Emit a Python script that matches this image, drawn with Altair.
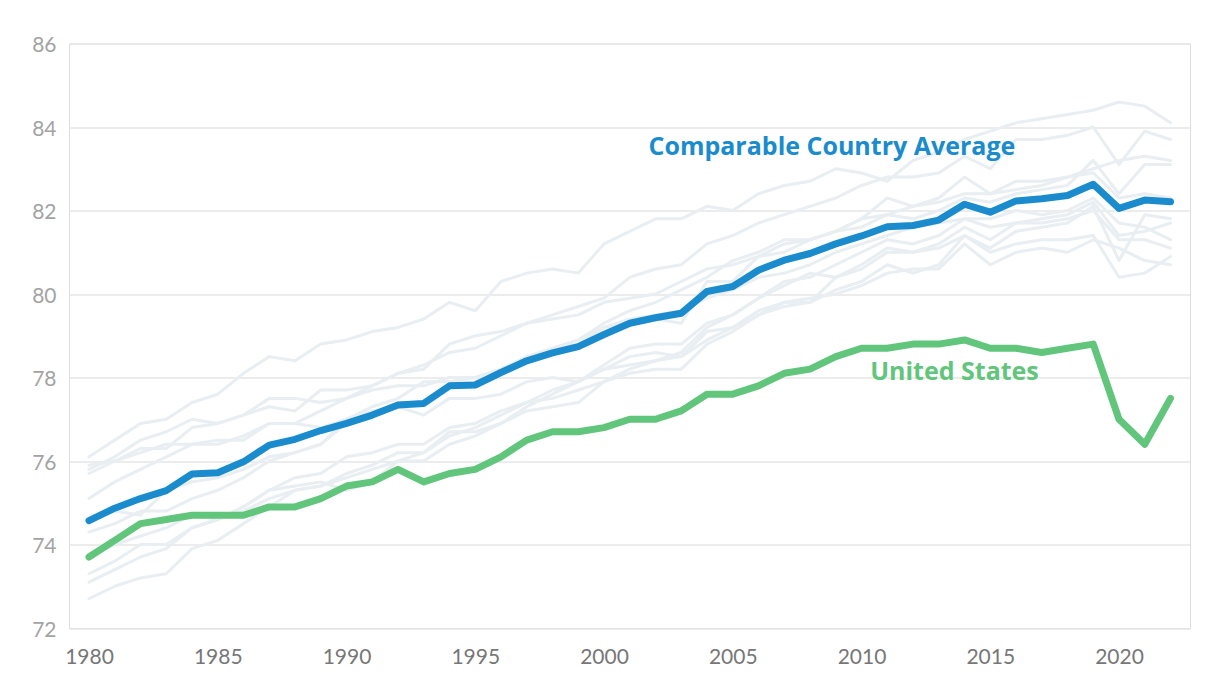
import altair as alt
import pandas as pd

years = list(range(1980, 2023))

us = [73.7, 74.1, 74.5, 74.6, 74.7, 74.7, 74.7, 74.9, 74.9, 75.1,
      75.4, 75.5, 75.8, 75.5, 75.7, 75.8, 76.1, 76.5, 76.7, 76.7,
      76.8, 77.0, 77.0, 77.2, 77.6, 77.6, 77.8, 78.1, 78.2, 78.5,
      78.7, 78.7, 78.8, 78.8, 78.9, 78.7, 78.7, 78.6, 78.7, 78.8,
      77.0, 76.4, 77.5]

comparable_avg = [74.57, 74.87, 75.1, 75.29, 75.69, 75.72, 75.98, 76.38, 76.52, 76.73,
                  76.9, 77.1, 77.34, 77.38, 77.8, 77.82, 78.12, 78.4, 78.59, 78.74,
                  79.03, 79.3, 79.43, 79.54, 80.06, 80.18, 80.57, 80.81, 80.97, 81.2,
                  81.39, 81.61, 81.64, 81.77, 82.15, 81.96, 82.23, 82.28, 82.36, 82.63,
                  82.05, 82.25, 82.21]

japan = [76.1, 76.5, 76.9, 77.0, 77.4, 77.6, 78.1, 78.5, 78.4, 78.8,
         78.9, 79.1, 79.2, 79.4, 79.8, 79.6, 80.3, 80.5, 80.6, 80.5,
         81.2, 81.5, 81.8, 81.8, 82.1, 82.0, 82.4, 82.6, 82.7, 83.0,
         82.9, 82.7, 83.2, 83.4, 83.7, 83.9, 84.1, 84.2, 84.3, 84.4,
         84.6, 84.5, 84.1]
switzerland = [75.7, 76.0, 76.3, 76.3, 76.8, 76.9, 77.1, 77.5, 77.5, 77.4,
               77.5, 77.8, 78.1, 78.3, 78.6, 78.7, 79.0, 79.3, 79.5, 79.7,
               79.9, 80.4, 80.6, 80.7, 81.2, 81.4, 81.7, 81.9, 82.1, 82.3,
               82.6, 82.8, 82.8, 82.9, 83.3, 83.0, 83.7, 83.7, 83.8, 84.0,
               83.1, 83.9, 83.7]
australia = [74.6, 74.8, 74.7, 75.3, 75.5, 75.6, 75.8, 76.1, 76.2, 76.4,
             77.0, 77.3, 77.5, 77.9, 77.9, 78.0, 78.2, 78.5, 78.7, 78.9,
             79.3, 79.6, 79.8, 80.1, 80.4, 80.8, 81.0, 81.3, 81.3, 81.5,
             81.8, 81.9, 82.1, 82.2, 82.4, 82.4, 82.5, 82.6, 82.8, 83.0,
             83.2, 83.3, 83.2]
sweden = [75.8, 76.1, 76.5, 76.7, 77.0, 76.9, 77.1, 77.3, 77.2, 77.7,
          77.7, 77.8, 78.1, 78.2, 78.8, 79.0, 79.1, 79.3, 79.4, 79.5,
          79.8, 79.9, 80.0, 80.3, 80.6, 80.7, 80.9, 81.0, 81.3, 81.5,
          81.6, 81.9, 81.8, 82.0, 82.3, 82.2, 82.4, 82.5, 82.6, 83.2,
          82.4, 83.1, 83.1]
netherlands = [75.9, 76.0, 76.2, 76.4, 76.4, 76.5, 76.5, 76.9, 76.9, 76.8,
               77.0, 77.2, 77.3, 77.1, 77.5, 77.5, 77.6, 77.9, 78.0, 77.9,
               78.2, 78.3, 78.4, 78.6, 79.2, 79.5, 79.9, 80.3, 80.4, 80.7,
               81.0, 81.3, 81.2, 81.4, 81.8, 81.6, 81.7, 81.8, 81.9, 82.2,
               81.4, 81.5, 81.7]
canada = [75.1, 75.5, 75.8, 76.1, 76.4, 76.4, 76.6, 76.9, 76.9, 77.2,
          77.5, 77.7, 77.8, 77.8, 78.0, 78.0, 78.2, 78.4, 78.6, 78.9,
          79.2, 79.4, 79.5, 79.6, 79.9, 80.1, 80.4, 80.5, 80.7, 81.0,
          81.2, 81.4, 81.6, 81.7, 81.8, 81.8, 82.0, 81.9, 82.0, 82.3,
          81.7, 81.6, 81.3]
france = [74.3, 74.5, 74.8, 74.8, 75.1, 75.3, 75.6, 76.0, 76.2, 76.4,
          76.9, 77.1, 77.4, 77.4, 77.8, 77.9, 78.1, 78.4, 78.6, 78.8,
          79.2, 79.3, 79.4, 79.3, 80.3, 80.3, 80.9, 81.2, 81.3, 81.5,
          81.8, 82.3, 82.1, 82.3, 82.8, 82.4, 82.7, 82.7, 82.8, 82.9,
          82.3, 82.4, 82.3]
uk = [73.7, 74.0, 74.2, 74.4, 74.7, 74.6, 74.8, 75.1, 75.3, 75.4,
      75.7, 75.9, 76.2, 76.2, 76.7, 76.7, 76.9, 77.2, 77.3, 77.4,
      77.9, 78.2, 78.4, 78.5, 78.9, 79.2, 79.5, 79.7, 79.8, 80.4,
      80.6, 81.0, 81.0, 81.1, 81.4, 81.0, 81.2, 81.3, 81.3, 81.4,
      80.4, 80.5, 80.9]
belgium = [73.3, 73.6, 74.0, 74.0, 74.4, 74.6, 74.9, 75.3, 75.6, 75.7,
           76.1, 76.2, 76.4, 76.4, 76.8, 76.9, 77.2, 77.4, 77.5, 77.7,
           77.9, 78.1, 78.2, 78.2, 78.8, 79.1, 79.5, 79.8, 79.8, 80.1,
           80.3, 80.7, 80.5, 80.7, 81.4, 81.1, 81.5, 81.6, 81.7, 82.1,
           80.8, 81.9, 81.8]
germany = [73.1, 73.4, 73.7, 73.9, 74.4, 74.6, 74.9, 75.3, 75.4, 75.5,
           75.3, 75.5, 76.0, 76.0, 76.4, 76.6, 76.9, 77.3, 77.6, 77.9,
           78.2, 78.5, 78.6, 78.5, 79.1, 79.2, 79.6, 79.8, 79.9, 80.0,
           80.2, 80.5, 80.6, 80.6, 81.2, 80.7, 81.0, 81.1, 81.0, 81.3,
           81.1, 80.8, 80.7]
austria = [72.7, 73.0, 73.2, 73.3, 73.9, 74.1, 74.5, 74.9, 75.3, 75.4,
           75.6, 75.8, 76.0, 76.2, 76.6, 76.8, 77.1, 77.4, 77.7, 77.9,
           78.3, 78.7, 78.8, 78.8, 79.3, 79.5, 79.9, 80.2, 80.5, 80.4,
           80.7, 81.1, 81.0, 81.2, 81.6, 81.3, 81.7, 81.7, 81.8, 82.0,
           81.3, 81.3, 81.1]

country_names = ["Japan", "Switzerland", "Australia", "Sweden", "Netherlands", "Canada",
                 "France", "United Kingdom", "Belgium", "Germany", "Austria"]
country_series = [japan, switzerland, australia, sweden, netherlands, canada,
                  france, uk, belgium, germany, austria]

x_ticks = [1980, 1985, 1990, 1995, 2000, 2005, 2010, 2015, 2020]
y_ticks = [72, 74, 76, 78, 80, 82, 84, 86]

label_texts = ["Comparable Country Average", "United States"]
label_years = [2008.85, 2013.61]
label_values = [83.33, 77.94]
label_colors = ["#1a8bcc", "#62c57c"]

BLUE = "#1a8bcc"
GREEN = "#62c57c"
GREY = "#e8eef1"

rows = []
for name, series in zip(country_names, country_series):
    for yr, v in zip(years, series):
        rows.append({"country": name, "year": yr, "value": v})
grey_df = pd.DataFrame(rows)
avg_df = pd.DataFrame({"year": years, "value": comparable_avg})
us_df = pd.DataFrame({"year": years, "value": us})
lab_df = pd.DataFrame({"text": label_texts, "year": label_years,
                       "value": label_values, "color": label_colors})

x_dom = [1979.2233, 2022.757]
x_enc = alt.X("year:Q",
              scale=alt.Scale(domain=x_dom, nice=False, zero=False),
              axis=alt.Axis(values=x_ticks, format="d", title=None, grid=False,
                            domain=False, ticks=False, labelPadding=18,
                            labelFontSize=21, labelColor="#777777", labelFont="Lato"))
y_enc = alt.Y("value:Q",
              scale=alt.Scale(domain=[72, 86], nice=False, zero=False),
              axis=alt.Axis(values=y_ticks, title=None, grid=True, gridColor="#e6e6e6",
                            gridWidth=1.5, domain=False, ticks=False, labelPadding=13,
                            labelOffset=2, labelFontSize=21, labelColor="#a3a3a3",
                            labelFont="Lato"))

grey = alt.Chart(grey_df).mark_line(color=GREY, strokeWidth=3, strokeJoin="round",
                                    strokeCap="round").encode(
    x=x_enc, y=y_enc, detail="country:N")
avg_line = alt.Chart(avg_df).mark_line(color=BLUE, strokeWidth=7, strokeJoin="round",
                                       strokeCap="round").encode(x=x_enc, y=y_enc)
us_line = alt.Chart(us_df).mark_line(color=GREEN, strokeWidth=7, strokeJoin="round",
                                     strokeCap="round").encode(x=x_enc, y=y_enc)
labels = alt.Chart(lab_df).mark_text(font="Open Sans", fontWeight="bold", fontSize=25,
                                     align="center", baseline="alphabetic").encode(
    x=x_enc, y=y_enc, text="text:N",
    color=alt.Color("color:N", scale=None))

chart = alt.layer(grey, avg_line, us_line, labels).properties(
    width=1121, height=584.5,
    autosize=alt.AutoSizeParams(type="none"),
    padding={"left": 69, "top": 43.5, "right": 30, "bottom": 70},
).configure_view(stroke=None).configure(background="white")

chart.save("out.html", embed_options={"renderer": "svg", "actions": False})
